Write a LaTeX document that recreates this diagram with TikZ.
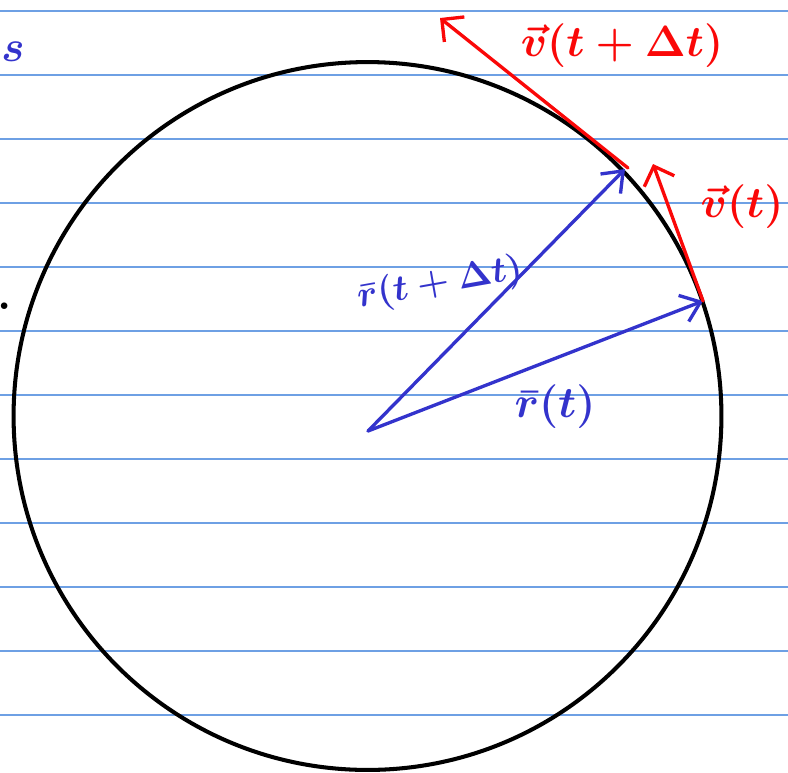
\documentclass[tikz,border=0pt]{standalone}
\usetikzlibrary{arrows.meta}
\definecolor{penblue}{RGB}{51,51,204}
\definecolor{penred}{RGB}{250,8,8}
\definecolor{ruleblue}{RGB}{110,160,228}
\begin{document}
\begin{tikzpicture}[x=0.02cm, y=-0.02cm,
    ruleline/.style={ruleblue, line width=0.8pt},
    vecr/.style={-{Straight Barb[length=3.6mm, width=5.6mm]}, penblue, line width=1.9pt, line cap=round},
    vecv/.style={-{Straight Barb[length=3.2mm, width=6.4mm]}, penred, line width=1.9pt, line cap=round}]
    \useasboundingbox (0,0) rectangle (788,772);

    % Ruled paper
    \foreach \y in {11,75,...,715}
        \draw[ruleline] (0,\y) -- (788,\y);

    % Fragments at the left edge
    \node[penblue, font=\fontsize{26}{30}\selectfont\boldmath] (sfrag) at (13,52) {$s$};
    \node[font=\fontsize{26}{30}\selectfont\bfseries] (dotfrag) at (5,306) {.};

    % Circle
    \coordinate (centre) at (367.5,416);
    \draw[black, line width=2.3pt] (centre) circle [radius=7.08cm];

    % Position vectors
    \coordinate (origin) at (368,431);
    \coordinate (pt) at (703,301);
    \coordinate (ptdt) at (625,169);
    \draw[vecr] (origin) -- (pt);
    \draw[vecr] (origin) -- (ptdt);

    % Velocity vectors
    \coordinate (vt) at (653,164);
    \coordinate (vtdt) at (440,18);
    \draw[vecv] (pt) -- (vt);
    \draw[vecv] (628,168) -- (vtdt);

    % Labels
    \node[penblue, rotate=10, font=\fontsize{20}{24}\selectfont\boldmath] (lrtdt) at (440,284) {$\bar r(t+\Delta t)$};
    \node[penblue, font=\fontsize{24}{28}\selectfont\boldmath] (lrt) at (555,407) {$\bar r(t)$};
    \node[penred, font=\fontsize{28}{32}\selectfont\boldmath] (lvtdt) at (622,46) {$\vec v(t+\Delta t)$};
    \node[penred, font=\fontsize{26}{30}\selectfont\boldmath] (lvt) at (742,207) {$\vec v(t)$};
\end{tikzpicture}
\end{document}
